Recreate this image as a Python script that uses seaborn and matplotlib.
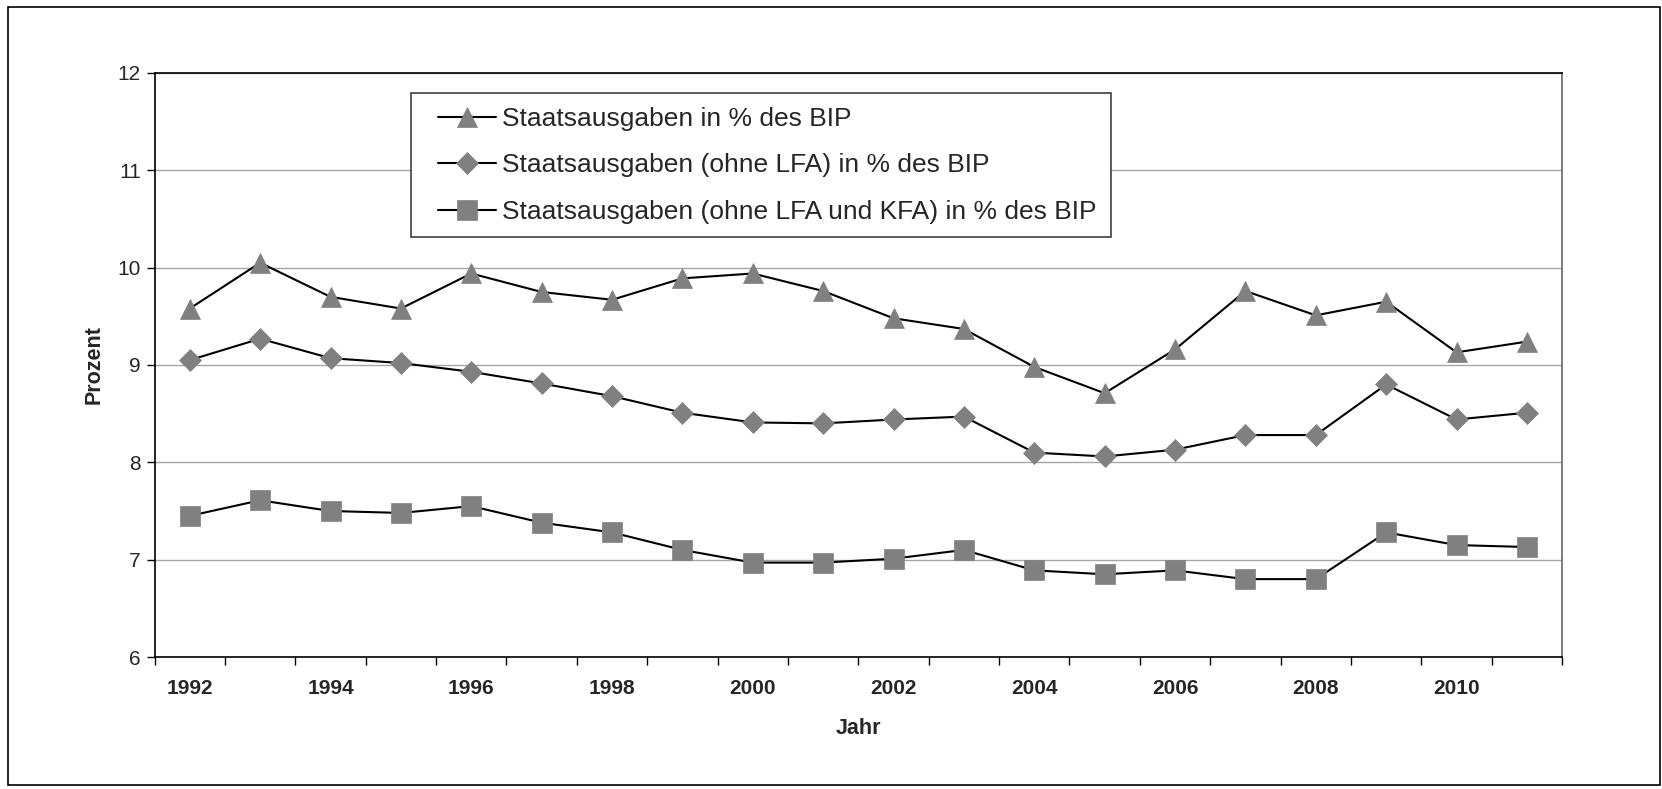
import numpy as np
import pandas as pd
import matplotlib
matplotlib.use('Agg')
import matplotlib.pyplot as plt
import seaborn as sns
from matplotlib.patches import Rectangle

years = list(range(1992, 2012))
staat = [9.58, 10.05, 9.70, 9.58, 9.94, 9.75, 9.67, 9.89, 9.94, 9.76,
         9.48, 9.37, 8.98, 8.71, 9.16, 9.76, 9.51, 9.65, 9.13, 9.24]
ohne_lfa = [9.05, 9.27, 9.07, 9.02, 8.93, 8.81, 8.68, 8.51, 8.41, 8.40,
            8.44, 8.47, 8.10, 8.06, 8.13, 8.28, 8.28, 8.80, 8.44, 8.51]
ohne_lfa_kfa = [7.45, 7.61, 7.50, 7.48, 7.55, 7.38, 7.28, 7.10, 6.97, 6.97,
                7.01, 7.10, 6.89, 6.85, 6.89, 6.80, 6.80, 7.28, 7.15, 7.13]
labels = ['Staatsausgaben in % des BIP',
          'Staatsausgaben (ohne LFA) in % des BIP',
          'Staatsausgaben (ohne LFA und KFA) in % des BIP']
year_labels = [str(y) if y % 2 == 0 else '' for y in years]

sns.set_theme(style='white')
plt.rcParams['font.family'] = ['Liberation Sans', 'DejaVu Sans']

df = pd.DataFrame({'Jahr': years, 's1': staat, 's2': ohne_lfa, 's3': ohne_lfa_kfa})

W, H = 1662, 789
fig = plt.figure(figsize=(W / 100, H / 100), dpi=100)
ax = fig.add_axes([0.093, 0.1673, 0.8469, 0.7402])

grey = '#808080'
specs = [('s1', '^', 15), ('s2', 'D', 10.7), ('s3', 's', 14)]
for (col, mk, ms), lab in zip(specs, labels):
    sns.lineplot(data=df, x='Jahr', y=col, ax=ax, color='black', linewidth=1.5,
                 marker=mk, markersize=ms, markerfacecolor=grey,
                 markeredgecolor=grey, markeredgewidth=0.5, label=lab)

ax.set_ylim(6, 12)
ax.set_yticks(range(6, 13))
ax.set_yticklabels([str(v) for v in range(6, 13)], fontsize=15)
ax.set_xlim(years[0] - 0.5, years[-1] + 0.5)
ax.set_xticks(np.arange(years[0] - 0.5, years[-1] + 1.0, 1.0))
ax.set_xticklabels([])
ax.set_xticks(years, minor=True)
ax.set_xticklabels(year_labels, minor=True, fontsize=15, fontweight='bold')
ax.tick_params(axis='x', which='major', direction='out', length=6, width=1, color='black', bottom=True)
ax.tick_params(axis='x', which='minor', length=0, pad=16, bottom=True)
ax.tick_params(axis='y', direction='out', length=6, width=1, color='black', pad=4, left=True)

ax.yaxis.grid(True, color='#a6a6a6', linewidth=1)
ax.set_axisbelow(True)
for side in ['left', 'bottom', 'top']:
    ax.spines[side].set_color('black')
    ax.spines[side].set_linewidth(1.2)
ax.spines['right'].set_color('#666666')
ax.spines['right'].set_linewidth(1.2)

ax.set_xlabel('Jahr', fontsize=15.5, fontweight='bold', labelpad=14)
ax.set_ylabel('Prozent', fontsize=15.5, fontweight='bold', labelpad=9)

# legend content without frame, frame drawn separately underneath it
leg = ax.legend(loc='upper left', bbox_to_anchor=(438 / W, 1 - 107 / H),
                bbox_transform=fig.transFigure, borderaxespad=0, borderpad=0,
                fontsize=19, frameon=False, handlelength=2.18,
                handletextpad=0.26, labelspacing=0.85)
leg.set_zorder(6)
box = Rectangle((410.7 / W, 1 - 236.7 / H), (1111 - 410.7) / W, (236.7 - 93.3) / H,
                transform=fig.transFigure, facecolor='white', edgecolor='#404040',
                linewidth=1.2, zorder=5, clip_on=False)
ax.add_patch(box)

fig.patches.append(Rectangle((0.005, 0.005), 0.9935, 0.9865, transform=fig.transFigure,
                             fill=False, edgecolor='black', linewidth=1.2))

fig.savefig('out.png', dpi=100)
